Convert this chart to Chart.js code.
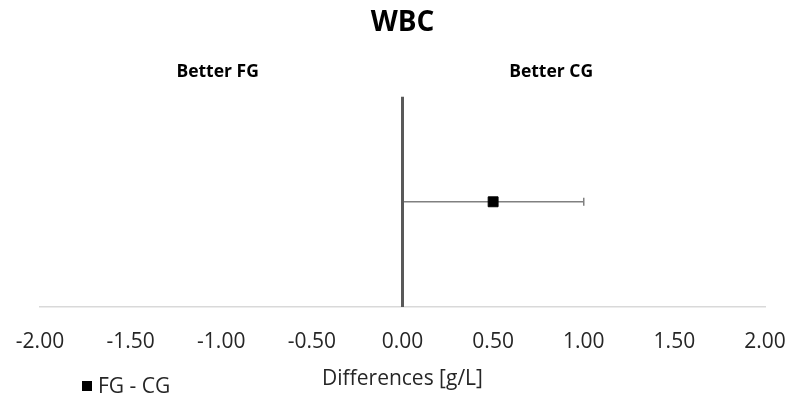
<!DOCTYPE html>
<html>
<head>
<meta charset="utf-8">
<title>WBC</title>
<script src="https://cdn.jsdelivr.net/npm/chart.js@4/dist/chart.umd.min.js"></script>
<style>
    html, body { margin: 0; padding: 0; background: #fff; overflow: hidden; }
    canvas { display: block; }
</style>
</head>
<body>
<canvas id="forestChart" width="790" height="404"></canvas>
<script>
// Mean difference between groups with its interval
const seriesLabel = 'FG - CG';
const diffValues = [0.5];
const lowerBounds = [0.0];
const upperBounds = [1.0];
const rowPositions = [0.5];

// x axis range and tick step
const xMin = -2;
const xMax = 2;
const xStep = 0.5;

// side notes above the plot
const sideNotes = ['Better FG', 'Better CG'];
const sideNoteAt = [-1.02, 0.82];

const FONT = '"Open Sans", "Liberation Sans", sans-serif';
const TEXT = '#262626';

// horizontal whiskers with end caps, drawn under the markers
const errorBarPlugin = {
    id: 'errorBars',
    beforeDatasetsDraw(chart) {
        const ctx = chart.ctx;
        const xs = chart.scales.x;
        const ys = chart.scales.y;
        ctx.save();
        ctx.strokeStyle = '#808080';
        ctx.lineWidth = 1.5;
        for (let i = 0; i < diffValues.length; i++) {
            const y = ys.getPixelForValue(rowPositions[i]);
            const x1 = xs.getPixelForValue(lowerBounds[i]);
            const x2 = xs.getPixelForValue(upperBounds[i]);
            ctx.beginPath();
            ctx.moveTo(x1, y);
            ctx.lineTo(x2, y);
            ctx.moveTo(x1, y - 4);
            ctx.lineTo(x1, y + 4);
            ctx.moveTo(x2, y - 4);
            ctx.lineTo(x2, y + 4);
            ctx.stroke();
        }
        ctx.restore();
    }
};

// "Better ..." notes and the legend entry
const notesPlugin = {
    id: 'notes',
    afterDraw(chart) {
        const ctx = chart.ctx;
        const xs = chart.scales.x;
        ctx.save();
        ctx.fillStyle = '#000';
        ctx.font = 'bold 17.5px ' + FONT;
        ctx.textAlign = 'center';
        ctx.textBaseline = 'middle';
        sideNotes.forEach(function (txt, i) {
            ctx.fillText(txt, xs.getPixelForValue(sideNoteAt[i]), 72);
        });

        // legend
        const ds = chart.data.datasets[1];
        ctx.fillStyle = ds.backgroundColor;
        ctx.fillRect(82, 381, 10, 10);
        ctx.fillStyle = TEXT;
        ctx.font = '21px ' + FONT;
        ctx.textAlign = 'left';
        ctx.fillText(ds.label, 98, 387);
        ctx.restore();
    }
};

const ctx = document.getElementById('forestChart').getContext('2d');
new Chart(ctx, {
    type: 'scatter',
    data: {
        datasets: [
            {
                label: 'zero line',
                data: [{ x: 0, y: 0 }, { x: 0, y: 1 }],
                showLine: true,
                borderColor: '#595959',
                borderWidth: 3,
                pointRadius: 0,
                order: 2
            },
            {
                label: seriesLabel,
                data: diffValues.map(function (v, i) { return { x: v, y: rowPositions[i] }; }),
                pointStyle: 'rect',
                pointRadius: 7,
                backgroundColor: '#000',
                borderColor: '#000',
                borderWidth: 1,
                order: 1
            }
        ]
    },
    options: {
        responsive: false,
        animation: false,
        layout: { padding: { left: 40, right: 25, top: 0, bottom: 8 } },
        plugins: {
            legend: { display: false },
            tooltip: { enabled: false },
            title: {
                display: true,
                text: 'WBC',
                color: '#000',
                font: { family: FONT, size: 28, weight: 'bold' },
                padding: { top: 6, bottom: 57 }
            }
        },
        scales: {
            x: {
                type: 'linear',
                min: xMin,
                max: xMax,
                grid: { display: false },
                border: { color: '#d9d9d9', width: 1.5 },
                ticks: {
                    stepSize: xStep,
                    color: TEXT,
                    padding: 14,
                    font: { family: FONT, size: 21 },
                    callback: function (v) { return v.toFixed(2); }
                },
                title: {
                    display: true,
                    text: 'Differences [g/L]',
                    color: TEXT,
                    font: { family: FONT, size: 21 },
                    padding: { top: -1.4, bottom: 4 }
                },
                // edge labels may hang into the layout padding
                afterFit: function (scale) {
                    scale.paddingLeft = 0;
                    scale.paddingRight = 0;
                }
            },
            y: {
                display: false,
                min: 0,
                max: 1
            }
        }
    },
    plugins: [errorBarPlugin, notesPlugin]
});
</script>
</body>
</html>
